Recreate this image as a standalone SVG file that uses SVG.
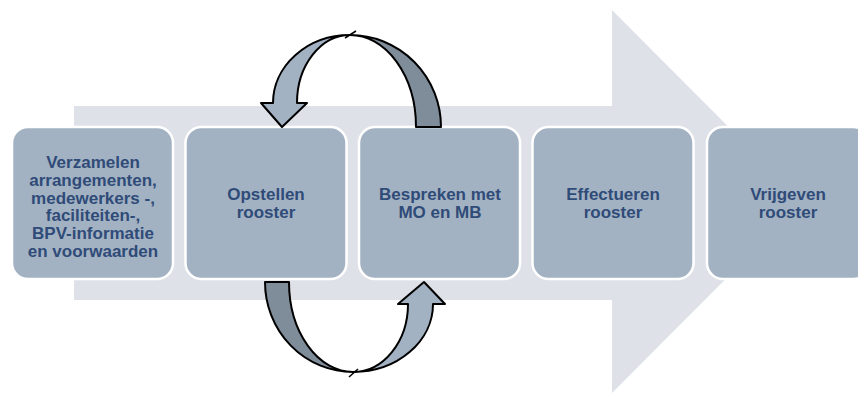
<svg xmlns="http://www.w3.org/2000/svg" width="858" height="394" viewBox="0 0 858 394">
<style>
.box{fill:#A3B2C3;stroke:#FFFFFF;stroke-width:2.5}
.t{font-family:"Liberation Sans",Arial,sans-serif;font-weight:bold;font-size:17px;fill:#2F4B78;text-anchor:middle}
.dark{fill:#7F8C99;stroke:#000;stroke-width:2;stroke-linejoin:round}
.light{fill:#A3B2C3;stroke:#000;stroke-width:2;stroke-linejoin:round}
.tick{stroke:#000;stroke-width:1.5;fill:none}
</style>
<rect width="858" height="394" fill="#FFFFFF"/>
<g id="bigarrow">
<polygon points="74,106 612,106 612,10 803,201.5 612,393 612,300 74,300" fill="#DEE2E8"/>
</g>
<g id="n1">
<rect class="box" x="12" y="127" width="161" height="152" rx="16"/>
<text class="t"><tspan x="93" y="168">Verzamelen</tspan><tspan x="93" y="185.8">arrangementen,</tspan><tspan x="93" y="203.6">medewerkers -,</tspan><tspan x="93" y="221.4">faciliteiten-,</tspan><tspan x="93" y="239.2">BPV-informatie</tspan><tspan x="93" y="257">en voorwaarden</tspan></text>
</g>
<g id="n2">
<rect class="box" x="185.5" y="127" width="161" height="152" rx="16"/>
<text class="t"><tspan x="266" y="200">Opstellen</tspan><tspan x="266" y="217.5">rooster</tspan></text>
</g>
<g id="n3">
<rect class="box" x="359" y="127" width="161" height="152" rx="16"/>
<text class="t"><tspan x="440" y="200">Bespreken met</tspan><tspan x="440" y="217.5">MO en MB</tspan></text>
</g>
<g id="n4">
<rect class="box" x="532.5" y="127" width="161" height="152" rx="16"/>
<text class="t"><tspan x="613" y="200">Effectueren</tspan><tspan x="613" y="217.5">rooster</tspan></text>
</g>
<g id="n5">
<rect class="box" x="707" y="127" width="162" height="152" rx="16"/>
<text class="t"><tspan x="788" y="200">Vrijgeven</tspan><tspan x="788" y="217.5">rooster</tspan></text>
</g>
<g id="connectors">
<path class="dark" d="M350,35 A91,92 0 0 1 441,127 L416,127 A66,92 0 0 0 350,35 Z"/>
<path class="light" d="M350,35 A77,68 0 0 0 273,103 L261,103 L282,127 L307,103 L297,103 A53,68 0 0 1 350,35 Z"/>
<path class="tick" d="M345,38 L356,31"/>
<path class="dark" d="M265,282 A88,90 0 0 0 353,372 A64,90 0 0 1 289,282 Z"/>
<path class="light" d="M353,372 A80,68 0 0 0 433,304 L445,304 L424,282 L398,304 L408,304 A55,68 0 0 1 353,372 Z"/>
<path class="tick" d="M358,369 L349,377"/>
</g>
</svg>
